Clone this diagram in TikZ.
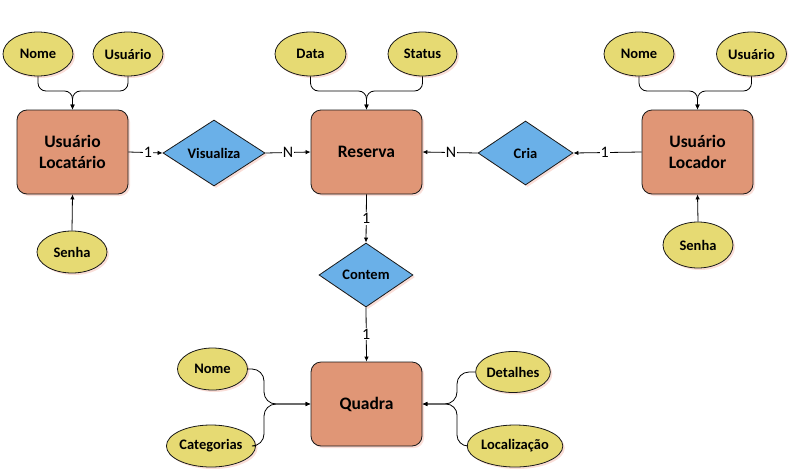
\documentclass[tikz,border=0pt]{standalone}
\usepackage{fontspec}
\setmainfont{Carlito}
\usetikzlibrary{shapes.geometric,arrows.meta,shadows}
\definecolor{entfill}{RGB}{224,150,118}
\definecolor{relfill}{RGB}{106,176,232}
\definecolor{attfill}{RGB}{230,218,115}
\definecolor{shadowc}{RGB}{250,222,216}
\tikzset{
  shd/.style={general shadow={fill=shadowc, shadow xshift=2pt, shadow yshift=-2pt}},
  entity/.style={draw=black!90, fill=entfill, rounded corners=10pt, minimum width=111pt, minimum height=84pt, inner sep=0pt, align=center, font=\fontsize{17.5}{21}\selectfont\bfseries, line width=0.8pt, shd},
  attr/.style={ellipse, draw=black!90, fill=attfill, inner sep=0pt, line width=0.8pt, font=\fontsize{14.5}{16}\selectfont\bfseries, shd},
  rel/.style={diamond, draw=black!90, fill=relfill, inner sep=0pt, line width=0.8pt, font=\fontsize{14.5}{16}\selectfont\bfseries, shd},
  conn/.style={draw=black, line width=0.8pt, -{Latex[length=5pt,width=4.5pt]}},
  lbl/.style={fill=white, inner sep=1pt, font=\fontsize{16}{18}\selectfont}
}
\begin{document}
\begin{tikzpicture}[x=1pt,y=-1pt]
\path[use as bounding box] (0,0) rectangle (789,471);
% entities
\node[entity] (ul) at (72.5,152) {Usuário\\Locatário};
\node[entity] (res) at (366.5,152) {Reserva};
\node[entity] (uloc) at (697.5,152) {Usuário\\Locador};
\node[entity] (q) at (366.5,404) {Quadra};
% relationships
\node[rel, minimum width=102pt, minimum height=66pt] (vis) at (214,153) {Visualiza};
\node[rel, minimum width=95pt, minimum height=64pt] (cria) at (525.5,153) {Cria};
\node[rel, minimum width=94pt, minimum height=64pt] (cont) at (366,275) {Contem};
% attributes
\node[attr, minimum width=70pt, minimum height=44pt] (n1) at (38,54) {Nome};
\node[attr, minimum width=70pt, minimum height=44pt] (u1) at (128,54) {Usuário};
\node[attr, minimum width=70pt, minimum height=42pt] (s1) at (72,252) {Senha};
\node[attr, minimum width=71pt, minimum height=44pt] (dat) at (310.5,54) {Data};
\node[attr, minimum width=69pt, minimum height=44pt] (sta) at (422.5,54) {Status};
\node[attr, minimum width=70pt, minimum height=44pt] (n2) at (639,54) {Nome};
\node[attr, minimum width=70pt, minimum height=44pt] (u2) at (751.5,54) {Usuário};
\node[attr, minimum width=70pt, minimum height=46pt] (s2) at (698,245) {Senha};
\node[attr, minimum width=70pt, minimum height=42pt] (qn) at (212.5,369) {Nome};
\node[attr, minimum width=82pt, minimum height=42pt] (cat) at (211,446) {Categorias};
\node[attr, minimum width=70pt, minimum height=41pt] (det) at (513,372) {Detalhes};
\node[attr, minimum width=94pt, minimum height=42pt] (loc) at (515,446) {Localização};
% junction coordinates
\coordinate (j1) at (72.5,91);
\coordinate (j2) at (366.5,91);
\coordinate (j3) at (697.5,91);
\coordinate (jl) at (264,404);
\coordinate (jr) at (457,404);
% attribute connectors
\draw[conn, rounded corners=8pt] (n1.south) |- (j1) -- (ul.north);
\draw[conn, rounded corners=8pt] (u1.south) |- (j1) -- (ul.north);
\draw[conn] (s1.north) -- (ul.south);
\draw[conn, rounded corners=8pt] (dat.south) |- (j2) -- (res.north);
\draw[conn, rounded corners=8pt] (sta.south) |- (j2) -- (res.north);
\draw[conn, rounded corners=8pt] (n2.south) |- (j3) -- (uloc.north);
\draw[conn, rounded corners=8pt] (u2.south) |- (j3) -- (uloc.north);
\draw[conn] (s2.north) -- (uloc.south);
\draw[conn, rounded corners=12pt] (qn.east) -| (jl) -- (q.west);
\draw[conn, rounded corners=12pt] (cat.east) -| (jl) -- (q.west);
\draw[conn, rounded corners=12pt] (det.west) -| (jr) -- (q.east);
\draw[conn, rounded corners=11pt] (loc.west) -| (jr) -- (q.east);
% relationship connectors
\draw[conn] (ul.east) -- node[lbl, pos=0.57] {1} (vis.west);
\draw[conn] (vis.east) -- node[lbl, pos=0.5] {N} (res.west);
\draw[conn] (uloc.west) -- node[lbl, pos=0.54] {1} (cria.east);
\draw[conn] (cria.west) -- node[lbl, pos=0.48] {N} (res.east);
\draw[conn] (res.south) -- node[lbl, pos=0.5] {1} (cont.north);
\draw[conn] (cont.south) -- node[lbl, pos=0.49] {1} (q.north);
\end{tikzpicture}
\end{document}
